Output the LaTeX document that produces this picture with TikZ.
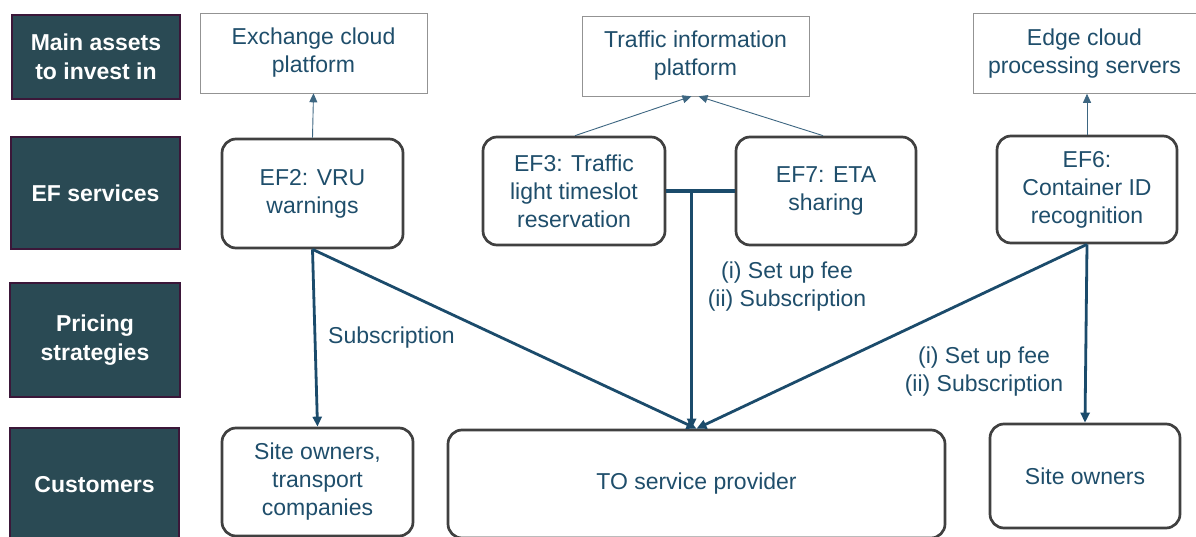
\documentclass[tikz,border=0pt]{standalone}
\usepackage{fontspec}
\setmainfont{Liberation Sans}
\usepackage{tikz}
\usetikzlibrary{arrows.meta,positioning,calc}
\definecolor{rowfill}{HTML}{2A4A54}
\definecolor{rowedge}{HTML}{3B1739}
\definecolor{txtblue}{HTML}{1F4E6B}
\definecolor{linkblue}{HTML}{1B4B6B}
\definecolor{boxgray}{HTML}{404040}

\begin{document}
\begin{tikzpicture}[
    x=1pt, y=-1pt,
    font=\fontsize{23}{28}\selectfont,
    rowlabel/.style={draw=rowedge, fill=rowfill, line width=1.8pt, text=white, font=\fontsize{23}{29}\selectfont\bfseries, align=center, inner sep=0pt},
    asset/.style={draw=gray!85, line width=0.6pt, fill=white, text=txtblue, align=center, inner sep=0pt},
    service/.style={draw=boxgray, rounded corners=14pt, line width=2.7pt, fill=white, text=txtblue, align=center, inner sep=0pt},
    price/.style={text=txtblue, align=center, inner sep=0pt},
    thinlink/.style={draw=linkblue!85, line width=0.9pt, -{Triangle[length=9pt,width=8pt]}},
    thicklink/.style={draw=linkblue, line width=2.8pt, -{Triangle[length=10pt,width=9pt]}}
]
\useasboundingbox (0,0) rectangle (1196,537);

% row headings
\node[rowlabel, minimum width=168, minimum height=84] (assets) at (96,57) {Main assets\\to invest in};
\node[rowlabel, minimum width=169, minimum height=112] (services) at (95.5,193) {EF services};
\node[rowlabel, minimum width=170, minimum height=114] (pricing) at (95,340) {Pricing\\strategies};
\node[rowlabel, minimum width=169, minimum height=114] (customers) at (94.5,485) {Customers};

% assets
\node[asset, minimum width=227, minimum height=80] (cloud) at (313.5,53) {Exchange cloud\\platform};
\node[asset, minimum width=227, minimum height=80] (traffic) at (695.5,56) {Traffic information\\platform};
\node[asset, minimum width=223, minimum height=80] (edge) at (1084.5,53.5) {Edge cloud\\processing servers};

% services
\node[service, minimum width=181, minimum height=109] (ef2) at (312.5,193.5) {EF2: VRU\\warnings};
\node[service, minimum width=182, minimum height=108] (ef3) at (574,191) {EF3: Traffic\\light timeslot\\reservation};
\node[service, minimum width=180, minimum height=108] (ef7) at (826,191) {EF7: ETA\\sharing};
\node[service, minimum width=180, minimum height=107] (ef6) at (1087,189.5) {EF6:\\Container ID\\recognition};

% customers
\node[service, minimum width=191, minimum height=108] (sites) at (317.5,482) {Site owners,\\transport\\companies};
\node[service, minimum width=497, minimum height=108] (to) at (696.5,484) {TO service provider};
\node[service, minimum width=190, minimum height=104] (owners) at (1085,476) {Site owners};

% pricing labels
\node[price, anchor=west] (subs) at (328,338) {Subscription};
\node[price] (fee1) at (787,287) {(i) Set up fee\\(ii) Subscription};
\node[price] (fee2) at (984,372) {(i) Set up fee\\(ii) Subscription};

% links to assets
\draw[thinlink] (ef2.north) -- (cloud.south);
\draw[thinlink] ([xshift=1]ef3.north) -- ([xshift=-4]traffic.south);
\draw[thinlink] ([xshift=-3]ef7.north) -- ([xshift=3]traffic.south);
\draw[thinlink] (ef6.north) -- (ef6.north |- edge.south);

% links to customers
\coordinate (bar) at ($(ef3.east)!0.37!(ef7.west)$);
\draw[linkblue, line width=3.4pt] (ef3.east) -- (ef7.west);
\foreach \a/\b in {ef2.south/sites.north, ef2.south/to.north, ef6.south/to.north, ef6.south/owners.north}
  \draw[thicklink] (\a) -- (\b);
\draw[thicklink] (bar) -- (bar |- to.north);
\end{tikzpicture}
\end{document}
